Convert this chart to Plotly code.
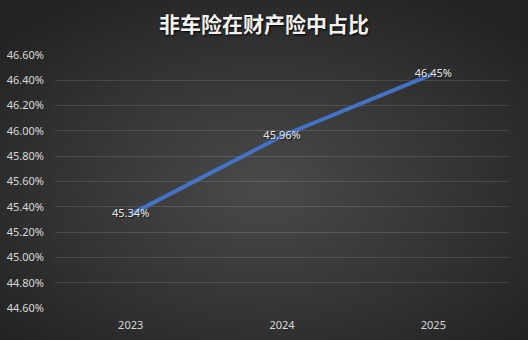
import plotly.graph_objects as go
import urllib.parse

years = ["2023", "2024", "2025"]
share = [0.4534, 0.4596, 0.4645]
labels = ["45.34%", "45.96%", "46.45%"]
title_text = "非车险在财产险中占比"

W, H = 528, 340
ml, mr, mt, mb = 55, 19, 55, 32
pw, ph = W - ml - mr, H - mt - mb

svg = (
    '<svg xmlns="http://www.w3.org/2000/svg" width="528" height="340" viewBox="0 0 528 340">'
    '<defs><radialGradient id="g" cx="50%" cy="55%" r="65%">'
    '<stop offset="0%" stop-color="#4a4a4a"/>'
    '<stop offset="100%" stop-color="#232323"/>'
    '</radialGradient></defs>'
    '<rect width="528" height="340" fill="url(#g)"/></svg>'
)
bg_src = "data:image/svg+xml;charset=utf-8," + urllib.parse.quote(svg)

tick_font = dict(family="Noto Sans, Open Sans", size=11, color="#d9d9d9")

fig = go.Figure()
fig.add_trace(go.Scatter(
    x=years, y=share, mode="lines+text",
    line=dict(color="#4472C4", width=4),
    text=labels, textposition="middle center",
    textfont=dict(family="Noto Sans, Open Sans", size=11, color="#e8e8e8",
                  shadow="1px 1px 1px rgba(0,0,0,0.6)"),
    hoverinfo="skip", showlegend=False, cliponaxis=False,
))

fig.update_layout(
    width=W, height=H,
    margin=dict(l=ml, r=mr, t=mt, b=mb, autoexpand=False),
    paper_bgcolor="#333333",
    plot_bgcolor="rgba(0,0,0,0)",
    title=dict(
        text="<b>" + title_text + "</b>",
        x=0.5, xanchor="center", y=1 - 25 / H, yanchor="middle",
        font=dict(family="Noto Sans CJK SC", size=21, color="#f2f2f2",
                  shadow="1px 1px 2px #000000"),
    ),
    images=[dict(
        source=bg_src, xref="paper", yref="paper",
        x=-ml / pw, y=1 + mt / ph, sizex=W / pw, sizey=H / ph,
        xanchor="left", yanchor="top", sizing="stretch", layer="below",
    )],
    xaxis=dict(
        type="category", range=[-0.5, 2.5], automargin=False,
        showgrid=False, zeroline=False, showline=False,
        ticks="", ticklabelstandoff=9, tickfont=tick_font,
    ),
    yaxis=dict(
        range=[0.446, 0.466], dtick=0.002, tick0=0.446, tickformat=".2%",
        automargin=False,
        showgrid=True, gridcolor="rgba(255,255,255,0.12)", gridwidth=1,
        zeroline=False, showline=False, ticks="",
        ticklabelstandoff=10, tickfont=tick_font,
    ),
)

fig.write_html("out.html")
